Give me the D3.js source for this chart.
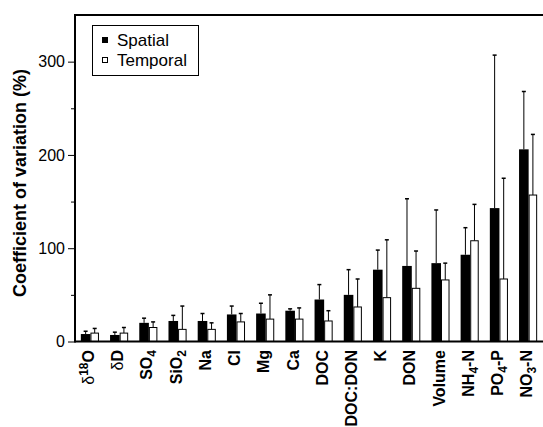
<!DOCTYPE html>
<html>
<head>
<meta charset="utf-8">
<script src="https://cdn.jsdelivr.net/npm/d3@7"></script>
<style>
  body { margin: 0; background: #fff; }
  svg { display: block; font-family: "Liberation Sans", Arial, sans-serif; }
</style>
</head>
<body>
<svg width="543" height="427"></svg>
<script>
// categories in plot order
var categories = ["δ18O", "δD", "SO4", "SiO2", "Na", "Cl", "Mg", "Ca", "DOC", "DOC:DON",
                  "K", "DON", "Volume", "NH4-N", "PO4-P", "NO3-N"];
var spatial    = [8, 7, 20, 22, 22, 29, 30, 33, 45, 50, 77, 81, 84, 93, 143, 206];
var spatialSD  = [3, 3, 5, 6, 8, 9, 11, 2, 16, 27, 21, 72, 57, 29, 164, 62];
var temporal   = [9, 9, 15, 13, 13, 21, 24, 24, 22, 37, 47, 57, 66, 108, 67, 157];
var temporalSD = [5, 6, 6, 25, 7, 9, 26, 12, 11, 30, 62, 40, 18, 39, 108, 65];
var majorTicks = [0, 100, 200, 300];
var minorTicks = [50, 150, 250];

var svg = d3.select("svg");
var plotL = 75, plotR = 543, plotT = 15, plotB = 341.5;

var x = d3.scaleBand().domain(categories).range([plotL, plotR])
    .paddingInner(0.38).paddingOuter(0.2);
var y = d3.scaleLinear().domain([0, 350]).range([plotB, plotT]);

var bw = x.bandwidth();
var wS = bw * 0.53, wT = bw * 0.47;

var rows = categories.map(function(c, i) {
  return {cat: c, s: spatial[i], sd: spatialSD[i], t: temporal[i], td: temporalSD[i]};
});

// error bars (drawn first, bars on top)
var g = svg.append("g");
function errbar(cx, v, e) {
  g.append("line").attr("x1", cx).attr("x2", cx)
    .attr("y1", y(v)).attr("y2", y(v + e))
    .attr("stroke", "#000").attr("stroke-width", 1);
  g.append("line").attr("x1", cx - 2).attr("x2", cx + 2)
    .attr("y1", y(v + e)).attr("y2", y(v + e))
    .attr("stroke", "#000").attr("stroke-width", 1.5);
}
rows.forEach(function(d) {
  errbar(x(d.cat) + wS / 2, d.s, d.sd);
  errbar(x(d.cat) + wS + wT / 2, d.t, d.td);
});

g.selectAll(".sp").data(rows).enter().append("rect")
  .attr("x", function(d) { return x(d.cat); })
  .attr("y", function(d) { return y(d.s); })
  .attr("width", wS)
  .attr("height", function(d) { return y(0) - y(d.s); })
  .attr("fill", "#000");

g.selectAll(".tp").data(rows).enter().append("rect")
  .attr("x", function(d) { return x(d.cat) + wS + 0.5; })
  .attr("y", function(d) { return y(d.t); })
  .attr("width", wT - 1)
  .attr("height", function(d) { return y(0) - y(d.t); })
  .attr("fill", "#fff").attr("stroke", "#000").attr("stroke-width", 1);

// axes
var yAxis = svg.append("g").attr("transform", "translate(" + plotL + ",0)")
  .call(d3.axisLeft(y).tickValues(majorTicks).tickSize(7).tickPadding(3));
yAxis.select(".domain").remove();
yAxis.selectAll("text").attr("font-size", 16).attr("fill", "#000")
  .style("font-family", "'Liberation Sans', Arial, sans-serif");
var yMinor = svg.append("g").attr("transform", "translate(" + plotL + ",0)")
  .call(d3.axisLeft(y).tickValues(minorTicks).tickSize(4).tickFormat(""));
yMinor.select(".domain").remove();

svg.append("line").attr("x1", plotL).attr("x2", plotL).attr("y1", plotT - 1).attr("y2", plotB + 1)
  .attr("stroke", "#000").attr("stroke-width", 2);
svg.append("line").attr("x1", plotL).attr("x2", plotR).attr("y1", plotT).attr("y2", plotT)
  .attr("stroke", "#000").attr("stroke-width", 2);
svg.append("line").attr("x1", plotL).attr("x2", plotR).attr("y1", plotB).attr("y2", plotB)
  .attr("stroke", "#000").attr("stroke-width", 2);

// x labels with sub/superscripts
function labelParts(s) {
  var parts = [];
  if (s.charAt(0) == "δ") {
    parts.push({t: "δ", w: "normal"});
    s = s.slice(1);
    if (s.slice(0, 2) == "18") { parts.push({t: "18", sup: true}); s = s.slice(2); parts.push({t: s, back: 6}); return parts; }
  }
  var m = s.match(/^([A-Za-z]+)(\d)(.*)$/);
  if (m) {
    parts.push({t: m[1]});
    parts.push({t: m[2], sub: true});
    parts.push({t: m[3], back: -4});
  } else {
    parts.push({t: s});
  }
  return parts;
}

categories.forEach(function(c) {
  var cx = x(c) + bw / 2 - 1.5;
  var txt = svg.append("text")
    .attr("transform", "translate(" + cx + ",350) rotate(-90)")
    .attr("text-anchor", "end")
    .attr("dy", "0.35em")
    .attr("font-size", 16).attr("font-weight", "bold");
  labelParts(c).forEach(function(p) {
    if (p.t == "") return;
    var ts = txt.append("tspan").text(p.t);
    if (p.w) ts.attr("font-weight", p.w);
    if (p.sub) ts.attr("font-size", 12).attr("dy", 4);
    if (p.sup) ts.attr("font-size", 12).attr("dy", -6);
    if (p.back) ts.attr("dy", p.back);
  });
});

// y title
svg.append("text")
  .attr("transform", "translate(26,183) rotate(-90)")
  .attr("text-anchor", "middle")
  .attr("font-size", 18).attr("font-weight", "bold")
  .text("Coefficient of variation (%)");

// legend
var lg = svg.append("g");
lg.append("rect").attr("x", 92.5).attr("y", 25.5).attr("width", 106).attr("height", 50)
  .attr("fill", "#fff").attr("stroke", "#000").attr("stroke-width", 1);
lg.append("rect").attr("x", 102.5).attr("y", 37.5).attr("width", 5).attr("height", 5)
  .attr("fill", "#000").attr("stroke", "#000");
lg.append("rect").attr("x", 102.5).attr("y", 57.5).attr("width", 5).attr("height", 5)
  .attr("fill", "#fff").attr("stroke", "#000");
lg.append("text").attr("x", 117).attr("y", 45.5).attr("font-size", 17).text("Spatial");
lg.append("text").attr("x", 117).attr("y", 65.5).attr("font-size", 17).text("Temporal");
</script>
</body>
</html>
